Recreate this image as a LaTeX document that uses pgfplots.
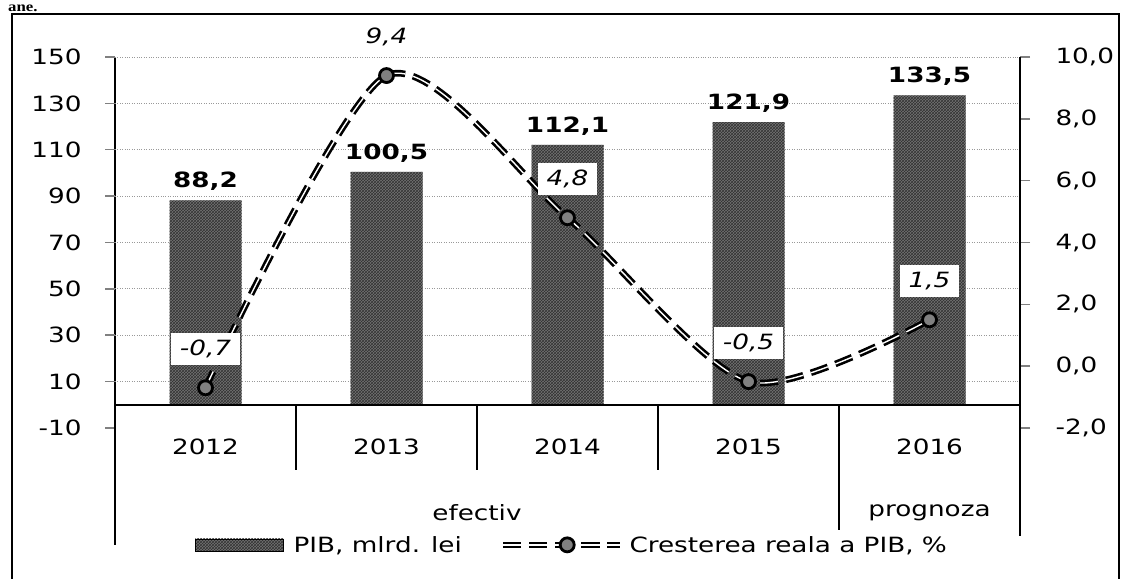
\documentclass[border=0pt]{standalone}
\usepackage{pgfplots}
\pgfplotsset{compat=1.18}
\usepackage{pgfplotstable}
\usepackage{fontspec}
\setmainfont{DejaVu Sans}[FakeStretch=1.25]
\newfontfamily\serifb{Liberation Serif}[FakeStretch=1.2]
\usetikzlibrary{patterns}
\newcommand\fs{\fontsize{21}{25}\selectfont}
\pgfplotsset{/pgf/number format/assume math mode=true}
\pgfplotstableread{
x bar line
0 88.2 -0.7
1 100.5 9.4
2 112.1 4.8
3 121.9 -0.5
4 133.5 1.5
}\data
\tikzset{barfill/.style={fill=black!55, draw=none, postaction={pattern=crosshatch, pattern color=black!80}},
  commafmt/.style={/pgf/number format/fixed, /pgf/number format/fixed zerofill, /pgf/number format/precision=1, /pgf/number format/use comma}}
\begin{document}
\begin{tikzpicture}[font=\fs]
\useasboundingbox (0pt,0pt) rectangle (1123pt,578pt);
\node[anchor=base west, inner sep=0pt] at (8pt,566pt) {\fontsize{14}{15}\selectfont\serifb\bfseries ane.};
\draw[line width=1.5pt] (12pt,-10pt) -- (12pt,564pt) -- (1119pt,564pt) -- (1119pt,-10pt);
\begin{axis}[
  at={(115pt,150pt)}, anchor=south west, scale only axis,
  width=905pt, height=371pt,
  xmin=-0.5, xmax=4.5, ymin=-10, ymax=150,
  clip=false,
  axis y line*=left, axis x line*=bottom,
  x axis line style={draw=none},
  y axis line style={line width=1.5pt},
  tick align=outside,
  major tick length=10pt,
  ytick={-10}, extra y ticks={10,30,...,150},
  extra y tick style={grid=major},
  major grid style={draw=black!40, dotted, line width=0.8pt},
  ytick style={line width=1.5pt},
  yticklabel style={xshift=-20pt},
  xtick={0,1,2,3,4}, xticklabels={2012,2013,2014,2015,2016},
  x tick style={draw=none},
  xticklabel style={yshift=3pt},
  ybar, bar width=72pt,
]
\addplot[barfill, bar shift=0pt,
  nodes near coords,
  every node near coord/.append style={font=\fs\bfseries, commafmt, yshift=6pt}]
  table[x=x, y=bar]{\data};
\draw[line width=1.5pt] (axis cs:-0.5,0) -- (axis cs:4.5,0);
\draw[line width=1.5pt] (axis cs:-0.5,-10) -- (axis cs:-0.5,-60.4);
\pgfplotsinvokeforeach{0.5,1.5,2.5}{\draw[line width=1.5pt] (axis cs:#1,0) -- (axis cs:#1,-28);}
\draw[line width=1.5pt] (axis cs:3.5,0) -- (axis cs:3.5,-54);
\node at (axis cs:1.5,-46.7) {efectiv};
\node at (axis cs:4,-46.7) {prognoza};
\end{axis}
\begin{axis}[
  at={(115pt,150pt)}, anchor=south west, scale only axis,
  width=905pt, height=371pt,
  xmin=-0.5, xmax=4.5, ymin=-2, ymax=10,
  clip=false,
  axis y line*=right, axis x line=none,
  y axis line style={line width=1.5pt},
  tick align=outside,
  major tick length=10pt,
  ytick={-2,0,...,10},
  ytick style={line width=1.5pt},
  yticklabel style={commafmt, xshift=22pt},
  legend columns=2,
  legend style={draw=none, fill=none, at={(0.0884,-0.315)}, anchor=west, inner xsep=0pt,
    font=\fs, /tikz/every even column/.append style={column sep=36pt}},
]
\addlegendimage{legend image code/.code={\fill[barfill] (0pt,-6pt) rectangle (88pt,6pt); \path (96pt,0pt);}}
\addlegendentry{PIB, mlrd. lei}
\addplot[smooth, tension=0.45, draw=black, line width=2.6pt, double=white, double distance=1.4pt,
  dash pattern=on 18pt off 8pt,
  mark=*, mark size=7pt, mark options={solid, fill=black!50, draw=black, line width=2.8pt},
  legend image code/.code={\draw[mark repeat=2,mark phase=2] plot coordinates {(0pt,0pt) (64pt,0pt) (117pt,0pt)}; \path (121pt,0pt);},
  nodes near coords,
  every node near coord/.append style={font=\fs\itshape, commafmt, anchor=center, yshift=39pt, fill=white, inner xsep=9pt, inner ysep=7pt}]
  table[x=x, y=line]{\data};
\addlegendentry{Cresterea reala a PIB, \%}
\draw[line width=1.5pt] (axis cs:4.5,-2) -- (axis cs:4.5,-5.5);
\end{axis}
\end{tikzpicture}
\end{document}
